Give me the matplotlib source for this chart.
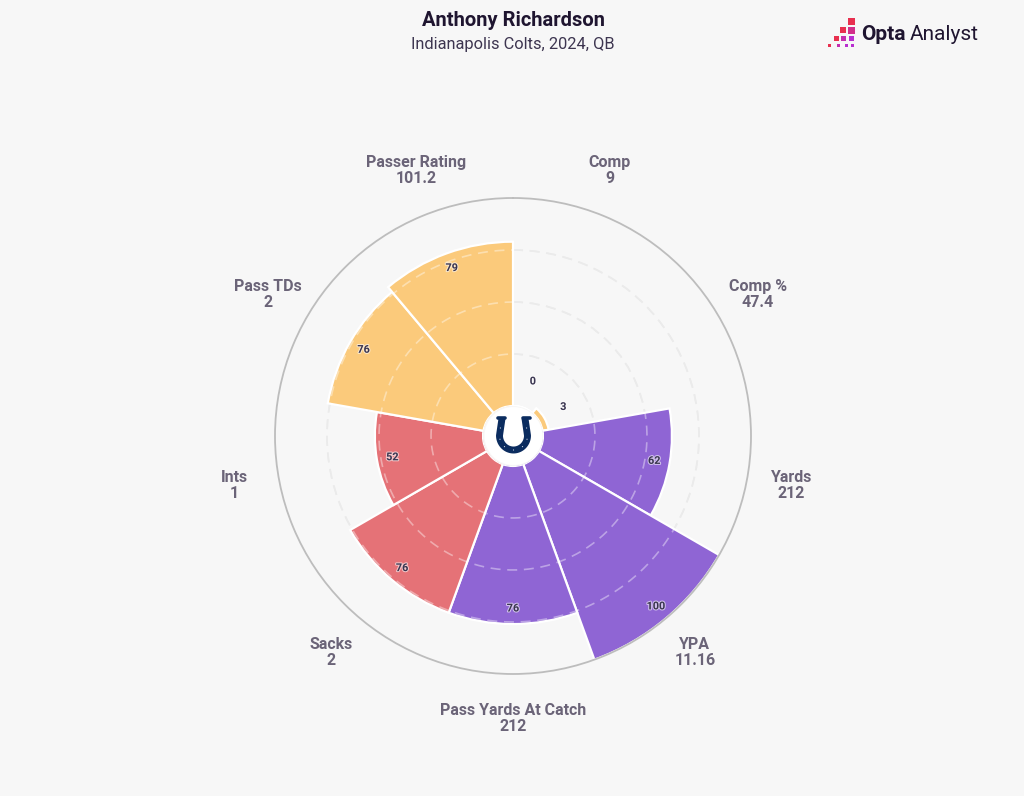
import numpy as np
import matplotlib
matplotlib.use("Agg")
import matplotlib.pyplot as plt
import matplotlib.patheffects as pe
from matplotlib.patches import Circle, Rectangle

# ---------------- data ----------------
categories = ["Comp", "Comp %", "Yards", "YPA", "Pass Yards At Catch",
              "Sacks", "Ints", "Pass TDs", "Passer Rating"]
raw_values = ["9", "47.4", "212", "11.16", "212", "2", "1", "2", "101.2"]
percentiles = [0, 3, 62, 100, 76, 76, 52, 76, 79]
groups = ["pass", "pass", "yard", "yard", "yard", "neg", "neg", "pass", "pass"]
group_colors = {"pass": "#FBCA7B", "yard": "#8F65D4", "neg": "#E57277"}

title = "Anthony Richardson"
subtitle = "Indianapolis Colts, 2024, QB"

BG = "#F7F7F7"
LABEL_C = "#6B6478"
VAL_C = "#3A3550"

plt.rcParams['font.family'] = ['Roboto', 'DejaVu Sans']

fig = plt.figure(figsize=(10.24, 7.96), dpi=100, facecolor=BG)

W, H = 1024, 796
cx, cy, R = 513, 436, 238
ax = fig.add_axes([(cx - R) / W, (H - cy - R) / H, 2 * R / W, 2 * R / H],
                  projection='polar', facecolor=BG)
ax.set_theta_zero_location('N')
ax.set_theta_direction(-1)
ax.set_ylim(0, 100)
ax.set_rorigin(-14.4)

n = len(categories)
width = 2 * np.pi / n
theta = np.arange(n) * width + width / 2
colors = [group_colors[g] for g in groups]

ax.bar(theta, percentiles, width=width, bottom=0, color=colors,
       edgecolor='white', linewidth=1.6, zorder=2)

# grid
ax.set_xticks(theta)
ax.set_xticklabels([])
ax.set_rgrids([25, 50, 75], labels=[])
ax.xaxis.grid(False)
ax.yaxis.grid(True, color='#DEDEDE', linestyle=(0, (6, 4)), linewidth=1.2)
ax.set_axisbelow(True)
tt = np.linspace(0, 2 * np.pi, 400)
for rr in [25, 50, 75]:
    ax.plot(tt, np.full_like(tt, rr), color='white', alpha=0.4,
            linestyle=(0, (6, 4)), linewidth=1.2, zorder=3)

for name in list(ax.spines.keys()):
    if name == 'polar':
        ax.spines[name].set_color('#BDBDBD')
        ax.spines[name].set_linewidth(1.3)
    else:
        # polar axes re-enables some spines at draw time, so make them invisible
        ax.spines[name].set_visible(False)
        ax.spines[name].set_edgecolor('none')
        ax.spines[name].set_linewidth(0)
ax.tick_params(length=0, width=0)

# value labels
for t, v in zip(theta, percentiles):
    rlab = max(v - 7.5, 13.5)
    ax.text(t, rlab, f"{v}", ha='center', va='center', fontsize=7.8,
            fontweight='bold', color=VAL_C, zorder=5,
            path_effects=[pe.withStroke(linewidth=1.5, foreground='white', alpha=0.6)])

# category labels
for t, c, rv in zip(theta, categories, raw_values):
    ax.text(t, 121.6, f"{c}\n{rv}", ha='center', va='center', fontsize=11.5,
            fontweight='bold', color=LABEL_C, linespacing=1.08, clip_on=False)

# center logo
S = 34
lax = fig.add_axes([(cx - S) / W, (H - 436 - S) / H, 2 * S / W, 2 * S / H], zorder=10)
lax.set_xlim(-S, S)
lax.set_ylim(-S, S)
lax.set_aspect('equal')
lax.axis('off')
lax.patch.set_visible(False)
lax.add_patch(Circle((0.5, 0), 29, facecolor='white', edgecolor='none', zorder=1))
navy = "#0B2C5F"
bt = np.linspace(np.pi, 2 * np.pi, 80)
xs = np.concatenate([[-11.0], 0.5 + 14 * np.cos(bt), [12.0]])
ys = np.concatenate([[17.5], 0.5 + 14.5 * np.sin(bt), [17.5]])
xs[1] = -13.5
xs[-2] = 14.5
lax.plot(xs, ys, color=navy, linewidth=5.0, solid_capstyle='butt',
         solid_joinstyle='round', zorder=2)
lax.plot([-15.5, -8.5], [18.5, 18.5], color=navy, linewidth=2.6,
         solid_capstyle='round', zorder=2)
lax.plot([9.5, 16.5], [18.5, 18.5], color=navy, linewidth=2.6,
         solid_capstyle='round', zorder=2)
for a in np.deg2rad([195, 230, 270, 310, 345]):
    lax.add_patch(Circle((0.5 + 14 * np.cos(a), 0.5 + 14.5 * np.sin(a)), 0.6,
                         facecolor='#C9D3E3', edgecolor='none', zorder=3))
for (px, py) in [(-12.6, 8), (13.6, 8)]:
    lax.add_patch(Circle((px, py), 0.6, facecolor='#C9D3E3', edgecolor='none', zorder=3))

# titles
fig.text(cx / W, 1 - 20 / H, title, ha='center', va='center', fontsize=14.5,
         fontweight='bold', color='#1F1530')
fig.text(cx / W, 1 - 44 / H, subtitle, ha='center', va='center', fontsize=11.8,
         color='#3D3550')

# Opta Analyst logo
t1 = fig.text(861 / W, 1 - 35 / H, "Opta", ha='left', va='center', fontsize=15,
              fontweight='bold', color='#1F1530')
fig.canvas.draw()
bb = t1.get_window_extent(renderer=fig.canvas.get_renderer())
fig.text((bb.x1 + 4) / W, 1 - 35 / H, "Analyst", ha='left', va='center',
         fontsize=15, color='#1F1530')
# (x, y, size, color) in pixels from top-left
squares = [
    (848, 18, 7, "#E8304F"),
    (840, 27, 6, "#E8304F"), (848, 27, 7, "#D22F8A"),
    (834, 36, 5, "#E8304F"), (841, 36, 5, "#C42FB0"), (849, 36, 5, "#B92FD0"),
    (828, 44, 3, "#E8304F"), (837, 44, 3, "#C42FB0"), (845, 44, 3, "#B92FD0"),
    (851, 44, 3, "#B92FD0"),
]
for (x0, y0, s, col) in squares:
    fig.add_artist(Rectangle((x0 / W, 1 - (y0 + s) / H), s / W, s / H,
                             transform=fig.transFigure, color=col, linewidth=0))

fig.savefig("out.png", dpi=100, facecolor=BG)
